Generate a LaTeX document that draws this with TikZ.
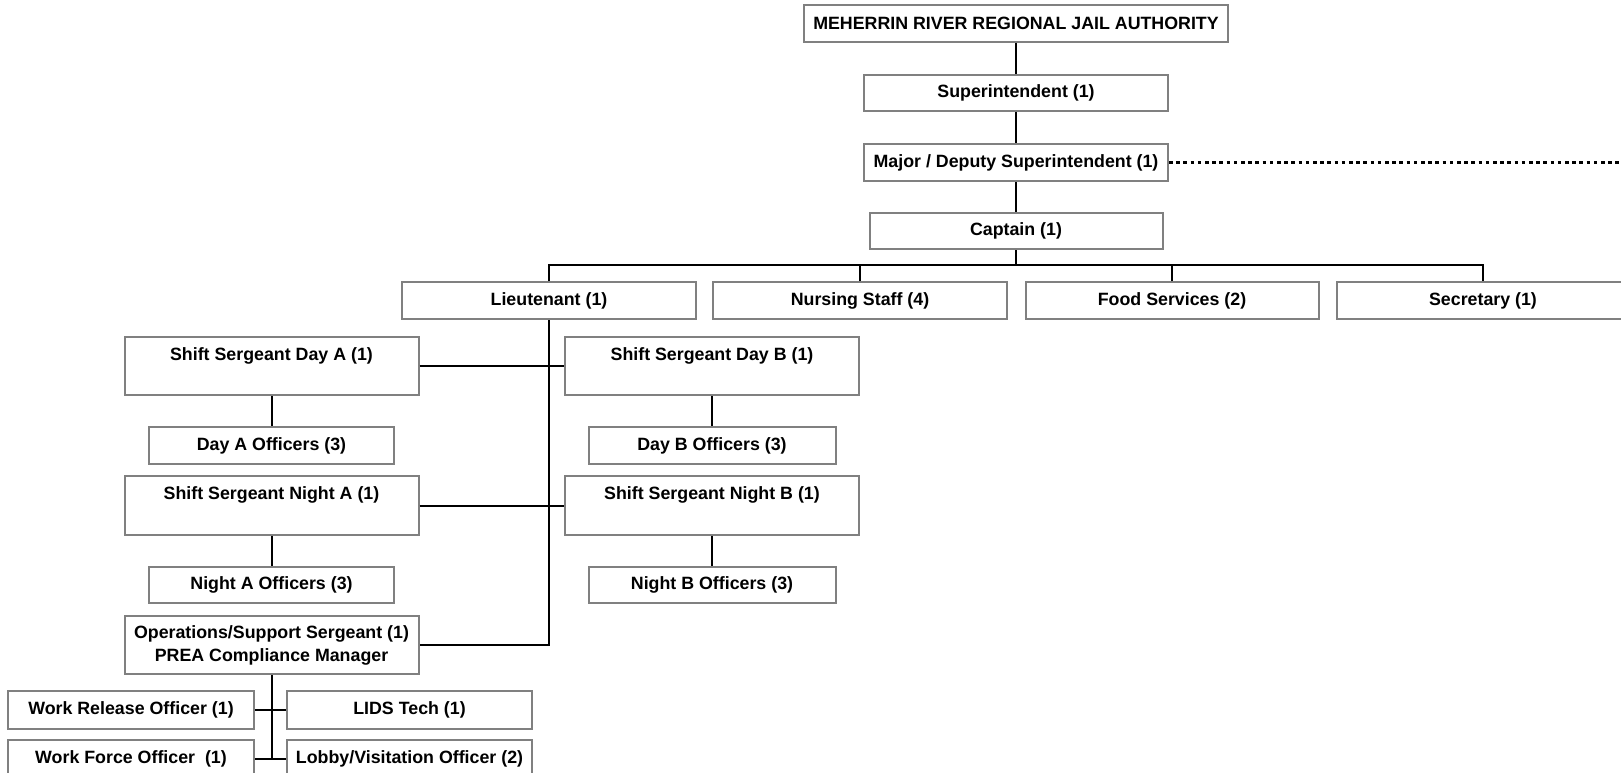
\documentclass[tikz,border=0pt]{standalone}
\usepackage{fontspec}
\setmainfont{Liberation Sans}
\definecolor{bordergray}{RGB}{128,128,128}
\begin{document}
\begin{tikzpicture}[x=1pt,y=-1pt,
  box/.style={draw=bordergray, line width=2pt, fill=white, inner sep=0pt,
    font=\bfseries\fontsize{17.8pt}{23pt}\selectfont, align=center,
    minimum height=37pt},
  topbox/.style={box, text height=23.5pt, text depth=35pt},
  conn/.style={draw=black, line width=2pt},
  dots/.style={draw=black, line width=2.8pt, dash pattern=on 3.6pt off 3.6pt}]
\clip (0,0) rectangle (1621,773);
% top chain
\node[box, minimum width=424pt] (mrrja) at (1016,23.5) {MEHERRIN RIVER REGIONAL JAIL AUTHORITY};
\node[box, minimum width=304pt, minimum height=36pt] (super) at (1016,93) {Superintendent (1)};
\node[box, minimum width=304pt] (major) at (1016,162.5) {Major / Deputy Superintendent (1)};
\node[box, minimum width=293pt, minimum height=36pt] (capt) at (1016,231) {Captain (1)};
% row under captain
\node[box, minimum width=294pt] (lieut) at (549,300.5) {Lieutenant (1)};
\node[box, minimum width=294pt] (nurse) at (860,300.5) {Nursing Staff (4)};
\node[box, minimum width=293pt] (food) at (1172,300.5) {Food Services (2)};
\node[box, minimum width=293pt] (sec) at (1483,300.5) {Secretary (1)};
% shift sergeants
\node[topbox, minimum width=294pt] (ssda) at (271.5,366) {Shift Sergeant Day A (1)};
\node[topbox, minimum width=294pt] (ssdb) at (712,366) {Shift Sergeant Day B (1)};
\node[box, minimum width=245pt] (daoff) at (271.5,445.5) {Day A Officers (3)};
\node[box, minimum width=247pt] (dboff) at (712,445.5) {Day B Officers (3)};
\node[topbox, minimum width=294pt] (ssna) at (271.5,505.5) {Shift Sergeant Night A (1)};
\node[topbox, minimum width=294pt] (ssnb) at (712,505.5) {Shift Sergeant Night B (1)};
\node[box, minimum width=245pt, minimum height=36pt] (naoff) at (271.5,585) {Night A Officers (3)};
\node[box, minimum width=247pt, minimum height=36pt] (nboff) at (712,585) {Night B Officers (3)};
% operations
\node[box, minimum width=294pt, minimum height=58pt] (ops) at (271.5,645) {Operations/Support Sergeant (1)\\PREA Compliance Manager};
\node[box, minimum width=246pt, minimum height=38pt] (wrel) at (131,710) {Work Release Officer (1)};
\node[box, minimum width=245pt, minimum height=38pt] (lids) at (409.5,710) {LIDS Tech (1)};
\node[box, minimum width=246pt, minimum height=38pt] (wforce) at (131,759) {Work Force Officer~ (1)};
\node[box, minimum width=245pt, minimum height=38pt] (lobby) at (409.5,759) {Lobby/Visitation Officer (2)};
% connectors
\coordinate (dotend) at (1630,162.5);
\draw[conn] (mrrja.south) -- (super.north);
\draw[conn] (super.south) -- (major.north);
\draw[conn] (major.south) -- (capt.north);
\draw[dots] (major.east) -- (dotend);
\coordinate (busL) at ([yshift=16pt]lieut.north);
\draw[conn] (lieut.north) -- (busL) -| (sec.north);
\draw[conn] (capt.south) -- (capt.south |- busL);
\draw[conn] (nurse.north) -- (nurse.north |- busL);
\draw[conn] (food.north) -- (food.north |- busL);
\draw[conn] (lieut.south) |- (ops.east);
\draw[conn] (ssda.east) -- (ssdb.west);
\draw[conn] (ssna.east) -- (ssnb.west);
\draw[conn] (ssda.south) -- (daoff.north);
\draw[conn] (ssdb.south) -- (dboff.north);
\draw[conn] (ssna.south) -- (naoff.north);
\draw[conn] (ssnb.south) -- (nboff.north);
\draw[conn] (ops.south) -- (ops.south |- wforce.east);
\draw[conn] (wrel.east) -- (lids.west);
\draw[conn] (wforce.east) -- (lobby.west);
\end{tikzpicture}
\end{document}
